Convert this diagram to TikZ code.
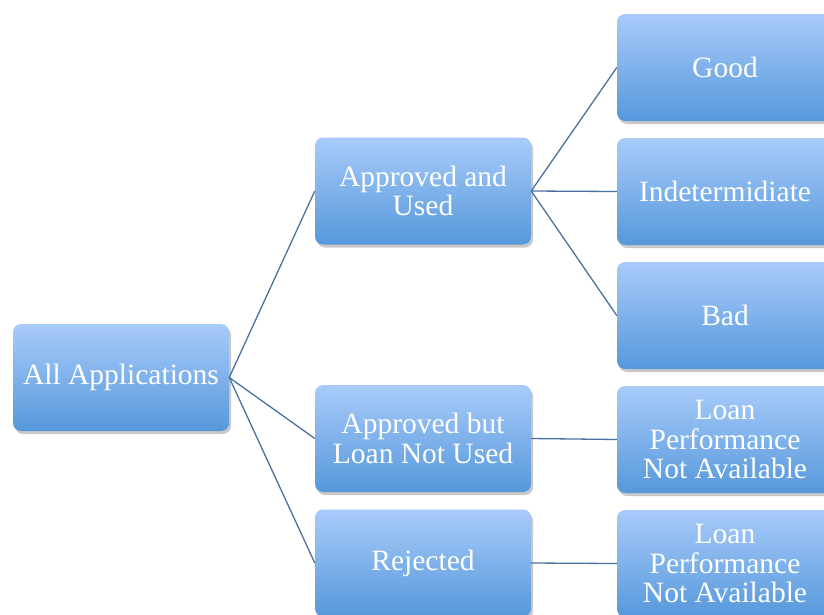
\documentclass[tikz,border=0pt]{standalone}
\usepackage{fontspec}
\setmainfont{Liberation Serif}
\usetikzlibrary{shadows}
\definecolor{boxtop}{RGB}{168,203,250}
\definecolor{boxbot}{RGB}{86,152,219}
\definecolor{linkc}{RGB}{74,114,160}
\tikzset{
  box/.style={rounded corners=8pt, minimum width=216pt, minimum height=107pt,
    top color=boxtop, bottom color=boxbot, draw=none,
    drop shadow={shadow xshift=2pt, shadow yshift=-3pt, opacity=0.35, fill=black!60},
    text=white, align=center, font=\fontsize{29.5}{29.5}\selectfont, inner sep=0pt},
  link/.style={draw=linkc, line width=1.3pt}
}
\begin{document}
\begin{tikzpicture}[x=1pt,y=-1pt]
\clip (0,0) rectangle (824,614);
\fill[white] (0,0) rectangle (824,614);
\node[box] (all) at (121,377.5) {All Applications};
\node[box] (au) at (423,191) {Approved and\\Used};
\node[box] (an) at (423,438.5) {Approved but\\Loan Not Used};
\node[box] (rj) at (423,563) {Rejected};
\node[box] (good) at (725,67.5) {Good};
\node[box] (ind) at (725,191.5) {Indetermidiate};
\node[box] (bad) at (725,315.5) {Bad};
\node[box] (lp1) at (725,439.5) {Loan\\Performance\\Not Available};
\node[box] (lp2) at (725,563.5) {Loan\\Performance\\Not Available};
\draw[link] (all.east) -- (au.west);
\draw[link] (all.east) -- (an.west);
\draw[link] (all.east) -- (rj.west);
\draw[link] (au.east) -- (good.west);
\draw[link] (au.east) -- (ind.west);
\draw[link] (au.east) -- (bad.west);
\draw[link] (an.east) -- (lp1.west);
\draw[link] (rj.east) -- (lp2.west);
\end{tikzpicture}
\end{document}
